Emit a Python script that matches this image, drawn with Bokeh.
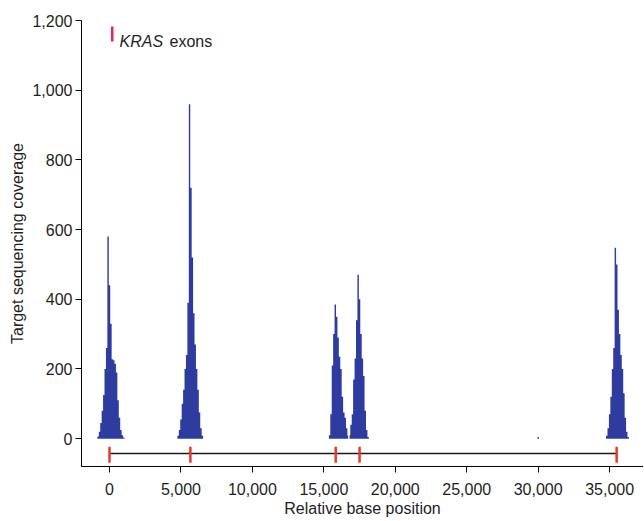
from bokeh.plotting import figure
from bokeh.models import Range1d, FixedTicker, NumeralTickFormatter, Label, BoxAnnotation
from bokeh.embed import file_html
from bokeh.resources import INLINE

# ---------------- data ----------------
# coverage profiles (100-bp bins), positions are bin centres (relative base position)
exon1_pos = [-900, -800, -700, -600, -500, -400, -300, -200, -100, 0, 100, 200, 300, 400, 500, 600, 700, 800, 900, 1000, 1100]
exon1_cov = [0, 6, 20, 45, 80, 125, 200, 260, 580, 440, 330, 228, 225, 215, 190, 110, 60, 25, 10, 3, 0]

exon2_pos = [4700, 4800, 4900, 5000, 5100, 5200, 5300, 5400, 5500, 5600, 5700, 5800, 5900, 6000, 6100, 6200, 6300, 6400, 6500, 6600]
exon2_cov = [0, 8, 25, 55, 100, 140, 200, 240, 390, 960, 720, 520, 360, 270, 200, 140, 75, 30, 8, 0]

exon3_pos = [15300, 15400, 15500, 15600, 15700, 15800, 15900, 16000, 16100, 16200, 16300, 16400, 16500, 16600, 16700]
exon3_cov = [0, 10, 70, 210, 300, 385, 350, 290, 235, 200, 120, 75, 60, 30, 8]

exon4_pos = [16800, 16900, 17000, 17100, 17200, 17300, 17400, 17500, 17600, 17700, 17800, 17900, 18000, 18100, 18200]
exon4_cov = [10, 40, 70, 170, 230, 340, 470, 400, 300, 230, 180, 80, 25, 5, 0]

exon5_pos = [34700, 34800, 34900, 35000, 35100, 35200, 35300, 35400, 35500, 35600, 35700, 35800, 35900, 36000, 36100, 36200, 36300, 36400]
exon5_cov = [0, 8, 30, 70, 120, 200, 260, 548, 500, 370, 300, 240, 200, 130, 60, 20, 5, 0]

stray_pos = [29900, 30000, 30100]
stray_cov = [0, 5, 0]

# KRAS exon positions (relative base position)
exon_positions = [0, 5660, 15830, 17500, 35490]

x_ticks = [0, 5000, 10000, 15000, 20000, 25000, 30000, 35000]
y_ticks = [0, 200, 400, 600, 800, 1000, 1200]

# ---------------- style / layout ----------------
BLUE = "#2e3ca0"
RED = "#e23b2a"
PINK = "#e5245e"
FONT = "Liberation Sans"
TEXT = "#1e1e1e"
GENE_Y = -43
TICK_LO, TICK_HI = -69, -23

p = figure(width=643, height=520, output_backend="svg", toolbar_location=None,
           x_range=Range1d(-1960, 37370), y_range=Range1d(-80, 1200),
           min_border_left=81, min_border_top=20, min_border_right=0, min_border_bottom=54)
p.outline_line_color = None
p.grid.grid_line_color = None
p.background_fill_color = "white"

for pos, cov in [(exon1_pos, exon1_cov), (exon2_pos, exon2_cov), (exon3_pos, exon3_cov),
                 (exon4_pos, exon4_cov), (exon5_pos, exon5_cov), (stray_pos, stray_cov)]:
    p.varea_step(x=pos, y1=[0] * len(pos), y2=cov, step_mode="center", fill_color=BLUE)

# gene structure line with exon ticks
p.segment(x0=[min(exon_positions)], x1=[max(exon_positions)], y0=[GENE_Y], y1=[GENE_Y],
          line_color="#1a1a1a", line_width=1.5)
p.segment(x0=exon_positions, x1=exon_positions, y0=[TICK_LO] * len(exon_positions),
          y1=[TICK_HI] * len(exon_positions), line_color=RED, line_width=2.5)

# axes
p.xaxis.ticker = FixedTicker(ticks=x_ticks)
p.yaxis.ticker = FixedTicker(ticks=y_ticks)
p.xaxis.formatter = NumeralTickFormatter(format="0,0")
p.yaxis.formatter = NumeralTickFormatter(format="0,0")
for ax in (p.xaxis[0], p.yaxis[0]):
    ax.axis_line_color = "black"
    ax.axis_line_width = 1
    ax.major_tick_line_color = "black"
    ax.major_tick_out = 6
    ax.major_tick_in = 0
    ax.minor_tick_line_color = None
    ax.major_label_text_font = FONT
    ax.major_label_text_font_size = "16px"
    ax.major_label_text_color = TEXT
    ax.axis_label_text_font = FONT
    ax.axis_label_text_font_size = "16px"
    ax.axis_label_text_font_style = "normal"
    ax.axis_label_text_color = TEXT

p.xaxis.axis_label = "Relative base position"
p.yaxis.axis_label = "Target sequencing coverage"
p.xaxis.major_label_standoff = 10
p.xaxis.axis_label_standoff = 2
p.yaxis.major_label_standoff = 3
p.yaxis.axis_label_standoff = 3

# legend
p.add_layout(BoxAnnotation(left=100, right=280, bottom=1140, top=1183,
                           fill_color=PINK, fill_alpha=1, line_color=None))
p.add_layout(Label(x=700, y=1141, text="KRAS", text_font=FONT, text_font_size="16px",
                   text_font_style="italic", text_color=TEXT, text_baseline="alphabetic"))
p.add_layout(Label(x=4200, y=1141, text="exons", text_font=FONT, text_font_size="16px",
                   text_color=TEXT, text_baseline="alphabetic"))

open("out.html", "w").write(file_html(p, INLINE))
